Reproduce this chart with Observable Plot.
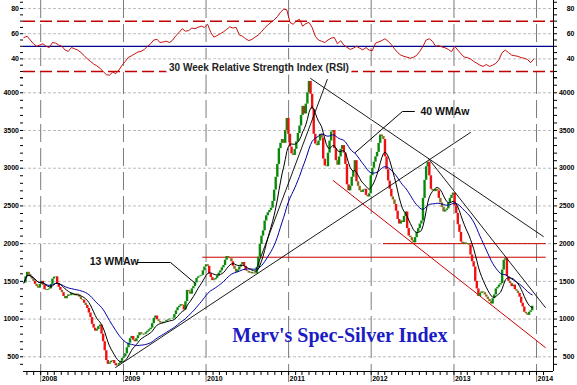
<!DOCTYPE html>
<html><head><meta charset="utf-8">
<script src="https://cdn.jsdelivr.net/npm/d3@7"></script>
<script src="https://cdn.jsdelivr.net/npm/@observablehq/plot@0.6"></script>
<style>
body{margin:0;background:#fff;}
#chart{width:577px;height:385px;position:relative;overflow:hidden;background:#fff;}
#chart svg{display:block;}
</style></head><body><div id="chart"></div>
<script>
// ---------------- DATA ----------------
const firstWeek = "2007-10-19";
const weeklyClose = [
1480,1560,1620,1590,1560,1530,1500,1460,1430,1410,
1460,1500,1450,1390,1380,1390,1400,1460,1530,1555,
1560,1470,1420,1380,1350,1300,1270,1300,1320,1310,
1340,1330,1310,1330,1320,1290,1260,1250,1210,1180,
1140,1080,1020,930,880,840,860,900,920,800,
700,580,450,400,420,440,450,410,380,390,
410,440,480,500,540,620,680,740,770,720,
700,740,780,820,800,790,800,820,840,860,
880,940,1010,1040,990,970,950,940,960,960,
980,990,1000,1000,1010,1060,1110,1150,1170,1190,
1180,1120,1230,1380,1360,1330,1400,1430,1480,1540,
1560,1570,1580,1640,1690,1720,1700,1600,1550,1510,
1520,1540,1570,1610,1640,1680,1710,1780,1830,1810,
1800,1760,1700,1660,1620,1650,1690,1720,1750,1700,
1640,1630,1610,1620,1600,1610,1600,1680,1820,1990,
2100,2170,2300,2370,2410,2440,2470,2560,2710,2880,
3050,3260,3330,3380,3330,3500,3660,3450,3280,3190,
3170,3250,3350,3460,3560,3700,3820,3720,3850,4000,
4150,3980,3780,3450,3320,3300,3360,3450,3400,3120,
3030,3020,3200,3360,3480,3500,3260,3100,3040,3150,
3250,3300,3200,3050,2780,2700,2760,2880,2960,3100,
2820,2760,2700,2680,2710,2720,2640,2620,2660,2900,
3000,3080,3150,3210,3330,3440,3420,3380,3150,2980,
2830,2720,2620,2580,2520,2430,2320,2260,2300,2280,
2360,2420,2200,2100,2080,2040,2010,2080,2150,2200,
2260,2300,2600,2840,3020,3080,2900,2720,2700,2690,
2720,2700,2600,2540,2480,2420,2440,2460,2540,2600,
2640,2670,2500,2400,2250,2150,2020,2000,2010,1990,
2000,1980,1850,1760,1690,1500,1400,1300,1340,1360,
1350,1320,1290,1260,1230,1200,1270,1320,1400,1420,
1450,1470,1650,1780,1800,1560,1500,1470,1430,1450,
1390,1370,1340,1290,1210,1160,1090,1070,1050,1090,
1110,1170
];
// 30-week RSI, read every second week
const rsiFirst = "2007-10-19";
const rsiBiweekly = [
57,58,55,52,50,51,52,50,49,53,
52.5,51,50,47,46,49,48,47,45,42.7,
40,38,36,34.5,32.6,30,27.5,27,29.5,28.3,
31.2,35,38,41.3,42.5,44,45.5,46,47.5,50,
52,55,55.5,53,53.5,54,53,55,58.5,61,
64,62,62.5,64.5,64,65.2,66,65,67.5,61,
57.3,58.5,60,61.5,63.5,65.5,64.5,65,59,58,
56,54.5,55.5,57.3,59,61.5,64.5,67,69,71,
73.5,77,79.5,79,69,67.5,70,71.5,66,68,
69,65,58,55,54,53,55,56.5,57,52,
54.4,51,49.2,47.5,48.5,50,48.5,47.2,49,47,
46.5,52.5,53.5,54.5,56,54,51.5,48,45,43,
42,41.3,40.5,41.3,42.8,46,50,55,56,54,
50,50.5,49.5,48.8,47.5,45.7,50,47,44,41.5,
41,40,38,36.5,35,34,35.5,34,35,36.4,
39.5,45,47,45,43,42.5,42,41,40.5,39.5,
37,39.9
];
const yearTicks = ["2008-01-01","2009-01-01","2010-01-01","2011-01-01","2012-01-01","2013-01-01","2014-01-01"];
const priceLabels = [500,1000,1500,2000,2500,3000,3500,4000];
const rsiLabels = [40,60,80];
const rsiBands = [30,70];
const rsiMid = [50];
const blackTrends = [
  {id:"up", date:"2008-11-27", value:358}, {id:"up", date:"2013-03-15", value:3474},
  {id:"steep", date:"2010-08-12", value:1671}, {id:"steep", date:"2011-06-21", value:4176},
  {id:"down1", date:"2011-04-08", value:4190}, {id:"down1", date:"2014-01-31", value:2095},
  {id:"down2", date:"2012-09-10", value:3129}, {id:"down2", date:"2014-02-09", value:1154}
];
const redTrends = [
  {id:"channel", date:"2011-07-17", value:2837}, {id:"channel", date:"2014-02-09", value:623},
  {id:"h1820", date:"2009-12-17", value:1820}, {id:"h1820", date:"2014-02-09", value:1820},
  {id:"h2000", date:"2012-02-24", value:2000}, {id:"h2000", date:"2014-02-09", value:2000}
];
const pointers = [
  {id:"13", date:"2009-03-04", value:1750}, {id:"13", date:"2009-07-28", value:1750}, {id:"13", date:"2009-11-15", value:1472},
  {id:"40", date:"2012-07-10", value:3752}, {id:"40", date:"2012-05-18", value:3752}, {id:"40", date:"2011-10-23", value:3209}
];
const maLabels = [
  {text:"13 WMAw", date:"2008-08-05", value:1768},
  {text:"40 WMAw", date:"2012-08-06", value:3752}
];
const chartTitle = [{text:"Merv's Spec-Silver Index", date:"2010-04-27", value:782}];
const rsiTitle = [{text:"30 Week Relative Strength Index (RSI)", date:"2010-08-23", value:33.2}];
const xDomainDates = ["2007-10-17","2014-03-17"];
const priceDomain = [305, 4216];
const rsiDomain = [26, 86.4];

// ---------------- BUILD ----------------
const parse = s => new Date(s + "T00:00:00Z");
const xDomain = xDomainDates.map(parse);
const years = yearTicks.map(parse);
const months = d3.utcMonth.range(parse("2007-11-01"), parse("2014-03-01"));
const t0 = parse(firstWeek);
const candles = weeklyClose.map((c, i) => {
  const open = i ? weeklyClose[i - 1] : c;
  const kind = c >= open ? "up" : ((open - c) / open < 0.025 ? "weak" : "down");
  return {date: d3.utcDay.offset(t0, 7 * i), open, close: c, kind};
});
const r0 = parse(rsiFirst);
const rsi = rsiBiweekly.map((v, j) => ({date: d3.utcDay.offset(r0, 14 * j), value: v}));
const conv = arr => arr.map(d => ({...d, date: parse(d.date)}));
const lwma = V => { let s = 0, w = 0; for (let i = 0; i < V.length; ++i) { s += V[i] * (i + 1); w += i + 1; } return s / w; };
const priceFmt = d => (d % 500 ? "" : String(d));
const rsiFmt = d => (rsiLabels.includes(d) ? String(d) : "");

const FONT = "Liberation Sans, Arial, sans-serif";
const common = {
  width: 577, marginLeft: 23, marginRight: 24,
  style: {background: "white", fontFamily: FONT, fontSize: "7px", fontWeight: "bold", color: "black", overflow: "visible"}
};

const rsiPlot = Plot.plot({
  ...common, height: 76, marginTop: 0, marginBottom: 0,
  x: {type: "utc", domain: xDomain, axis: null, label: null},
  y: {domain: rsiDomain, label: null},
  marks: [
    Plot.ruleY(rsiLabels, {stroke: "#bdbdbd", strokeDasharray: "3,2"}),
    Plot.ruleX(years, {stroke: "#7a7a7a", strokeDasharray: "18,6"}),
    Plot.ruleY(rsiBands, {stroke: "#c00000", strokeWidth: 1.5, strokeDasharray: "12,5"}),
    Plot.ruleY(rsiMid, {stroke: "#00008b", strokeWidth: 1.3}),
    Plot.text(rsiTitle, {x: d => parse(d.date), y: "value", text: "text", fontSize: 10, fontWeight: "bold", fontFamily: FONT, fill: "#222", stroke: "white", strokeWidth: 7}),
    Plot.line(rsi, {x: "date", y: "value", stroke: "#c81010", strokeWidth: 1}),
    Plot.ruleX([xDomain[1]], {stroke: "black"}),
    Plot.axisY({anchor: "left", label: null, ticks: d3.range(25, 86, 5), tickFormat: rsiFmt, tickSize: 3, tickPadding: 1.5}),
    Plot.axisY({anchor: "right", label: null, ticks: d3.range(25, 86, 5), tickFormat: rsiFmt, tickSize: 3, tickPadding: 18, textAnchor: "end"})
  ]
});

const pricePlot = Plot.plot({
  ...common, height: 309, marginTop: 0, marginBottom: 14,
  x: {type: "utc", domain: xDomain, label: null},
  y: {domain: priceDomain, label: null},
  color: {domain: ["up", "down", "weak"], range: ["#0a8a0a", "#ee1111", "#8b6a1a"]},
  marks: [
    Plot.ruleY(priceLabels, {stroke: "#bdbdbd", strokeDasharray: "3,2"}),
    Plot.ruleX(years, {stroke: "#7a7a7a", strokeDasharray: "18,6", insetBottom: -14}),
    Plot.line(conv(redTrends), {x: "date", y: "value", z: "id", stroke: "#cc0000", strokeWidth: 1}),
    Plot.ruleX(candles, {x: "date", y1: "open", y2: "close", stroke: "kind", strokeWidth: 2.4}),
    Plot.lineY(candles, Plot.windowY({k: 40, anchor: "end", reduce: lwma}, {x: "date", y: "close", stroke: "#0000a0", strokeWidth: 1})),
    Plot.lineY(candles, Plot.windowY({k: 13, anchor: "end", reduce: lwma}, {x: "date", y: "close", stroke: "black", strokeWidth: 1})),
    Plot.line(conv(blackTrends), {x: "date", y: "value", z: "id", stroke: "#000", strokeWidth: 0.9}),
    Plot.line(conv(pointers), {x: "date", y: "value", z: "id", stroke: "#000", strokeWidth: 1}),
    Plot.text(conv(maLabels), {x: "date", y: "value", text: "text", textAnchor: "start", fontSize: 10.5, fontWeight: "bold", fontFamily: FONT, fill: "#111"}),
    Plot.text(conv(chartTitle), {x: "date", y: "value", text: "text", textAnchor: "start", fontSize: 20, fontWeight: "bold", fontFamily: "Liberation Serif, Times New Roman, serif", fill: "#1c1cc4"}),
    Plot.ruleY([priceDomain[0]], {stroke: "black"}),
    Plot.ruleX([xDomain[1]], {stroke: "black"}),
    Plot.axisY({anchor: "left", label: null, ticks: d3.range(400, 4201, 100), tickFormat: priceFmt, tickSize: 3, tickPadding: 1.5}),
    Plot.axisY({anchor: "right", label: null, ticks: d3.range(400, 4201, 100), tickFormat: priceFmt, tickSize: 3, tickPadding: 18, textAnchor: "end"}),
    Plot.axisX({label: null, ticks: months, tickSize: 4, tickFormat: () => ""}),
    Plot.axisX({label: null, ticks: years, tickSize: 0, tickPadding: 5, tickFormat: d3.utcFormat("%Y"), textAnchor: "start", dx: 1})
  ]
});

const el = document.getElementById("chart");
el.appendChild(rsiPlot);
el.appendChild(pricePlot);
</script></body></html>
